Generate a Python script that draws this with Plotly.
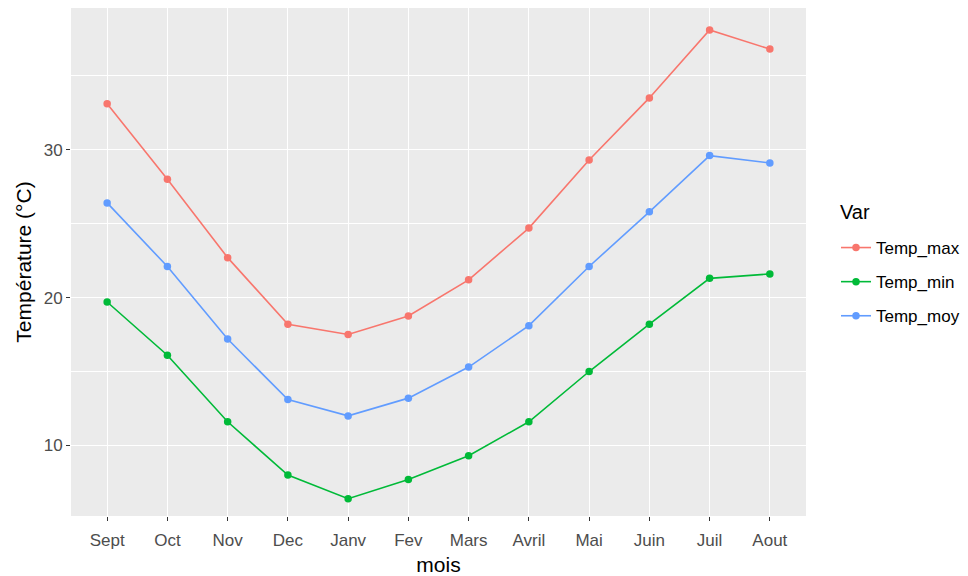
import plotly.graph_objects as go

mois = ["Sept", "Oct", "Nov", "Dec", "Janv", "Fev", "Mars", "Avril", "Mai", "Juin", "Juil", "Aout"]
temp_max = [33.1, 28.0, 22.7, 18.2, 17.5, 18.75, 21.2, 24.7, 29.3, 33.5, 38.1, 36.8]
temp_min = [19.7, 16.1, 11.6, 8.0, 6.4, 7.7, 9.3, 11.6, 15.0, 18.2, 21.3, 21.6]
temp_moy = [26.4, 22.1, 17.2, 13.1, 12.0, 13.2, 15.3, 18.1, 22.1, 25.8, 29.6, 29.1]

series = [("Temp_max", temp_max, "#F8766D"),
          ("Temp_min", temp_min, "#00BA38"),
          ("Temp_moy", temp_moy, "#619CFF")]

fig = go.Figure()
for name, vals, col in series:
    fig.add_trace(go.Scatter(
        x=mois, y=vals, name=name, mode="lines+markers",
        line=dict(color=col, width=1.6),
        marker=dict(color=col, size=7.5),
        legendgroup=name,
    ))

W, H = 960, 568
L, R, T, B = 63, 162, 0, 60
PW, PH = W - L - R, H - T - B

font = "Liberation Sans, Arial, sans-serif"
fig.update_layout(
    width=W, height=H,
    margin=dict(l=L, r=R, t=T, b=B, autoexpand=False),
    paper_bgcolor="white",
    plot_bgcolor="#EBEBEB",
    font=dict(family=font, size=17, color="#4D4D4D"),
    showlegend=True,
    legend=dict(
        xref="container", yref="container",
        x=828/W, xanchor="left",
        y=1-222/H, yanchor="top",
        font=dict(size=17, color="black"),
        tracegroupgap=9,
        itemwidth=30,
        bgcolor="rgba(0,0,0,0)",
    ),
    annotations=[dict(
        text="Var", xref="paper", yref="paper", showarrow=False,
        x=(830-L)/PW, xanchor="left",
        y=1-(204-T)/PH, yanchor="middle",
        font=dict(size=20, color="black"),
    )],
    xaxis=dict(
        type="category", categoryorder="array", categoryarray=mois,
        range=[-0.6, 11.6], automargin=False,
        showgrid=True, gridcolor="white", gridwidth=1.2,
        zeroline=False, showline=False,
        ticks="outside", ticklen=4, tickcolor="#333333", tickwidth=1,
        ticklabelstandoff=5,
        tickfont=dict(size=17, color="#4D4D4D"),
        title=dict(text="mois", font=dict(size=21, color="black"), standoff=8),
    ),
    yaxis=dict(
        range=[5.23, 39.58], automargin=False,
        tickvals=[10, 20, 30],
        showgrid=True, gridcolor="white", gridwidth=1.2,
        minor=dict(tickvals=[15, 25, 35], showgrid=True, gridcolor="white", gridwidth=0.6, ticklen=0),
        zeroline=False, showline=False,
        ticks="outside", ticklen=4, tickcolor="#333333", tickwidth=1,
        tickfont=dict(size=17, color="#4D4D4D"),
        title=dict(text="Température (°C)", font=dict(size=21, color="black"), standoff=6),
    ),
)

fig.write_html("out.html")
